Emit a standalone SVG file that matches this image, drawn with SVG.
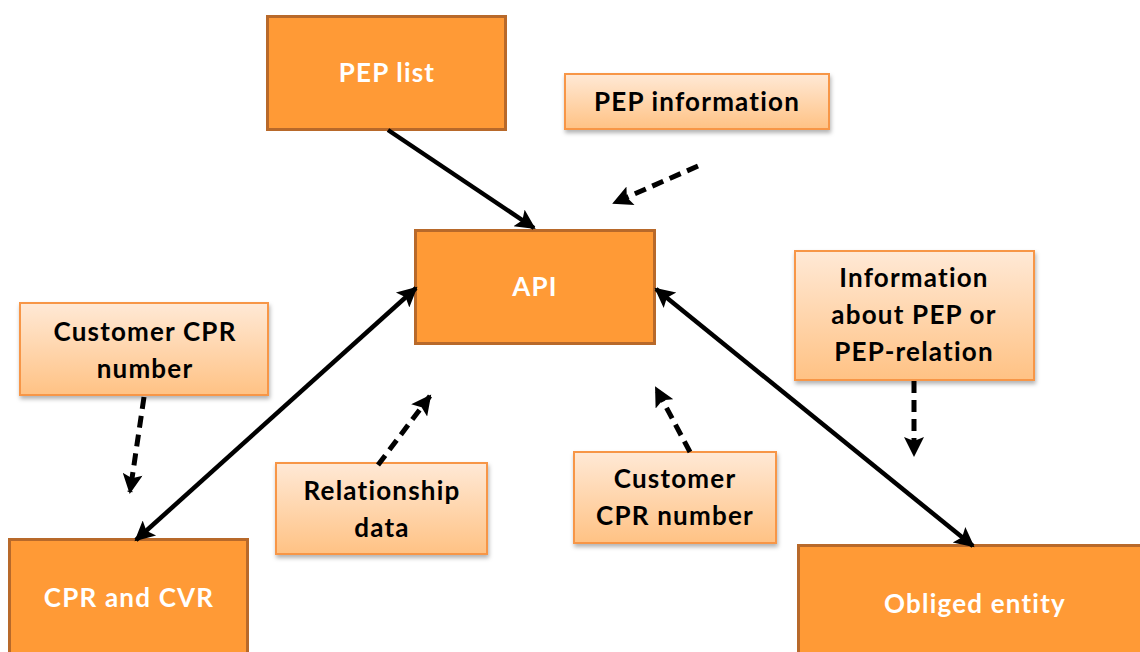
<svg xmlns="http://www.w3.org/2000/svg" width="1140" height="652" viewBox="0 0 1140 652">
<defs>
<linearGradient id="lg" x1="0" y1="0" x2="0" y2="1">
<stop offset="0" stop-color="#FFE9D6"/>
<stop offset="1" stop-color="#FFC284"/>
</linearGradient>
<filter id="sh" x="-10%" y="-10%" width="120%" height="130%">
<feDropShadow dx="1" dy="3" stdDeviation="2" flood-color="#000" flood-opacity="0.3"/>
</filter>
<marker id="ah" viewBox="0 0 10 10" refX="9" refY="5" markerWidth="22" markerHeight="20" markerUnits="userSpaceOnUse" orient="auto-start-reverse">
<path d="M0,0 L10,5 L0,10 L2,5 Z" fill="#000"/>
</marker>
</defs>
<style>
.dark{fill:#FF9A36;stroke:#B8692A;stroke-width:3}
.light{fill:url(#lg);stroke:#F79646;stroke-width:2;filter:url(#sh)}
.wt{font-family:Lato,"Open Sans",sans-serif;font-weight:bold;font-size:26px;letter-spacing:1.2px;fill:#fff;text-anchor:middle}
.bt{font-family:Lato,"Open Sans",sans-serif;font-weight:bold;font-size:26px;letter-spacing:1.2px;fill:#000;text-anchor:middle}
.sol{stroke:#000;stroke-width:4.5;fill:none}
.dsh{stroke:#000;stroke-width:5;fill:none;stroke-dasharray:12 7}
</style>
<g id="pep-list"><rect class="dark" x="267.5" y="16.5" width="238" height="113"/><text class="wt" x="387" y="82">PEP list</text></g>
<g id="pep-information"><rect class="light" x="565" y="74" width="264" height="55"/><text class="bt" x="697" y="111">PEP information</text></g>
<g id="api"><rect class="dark" x="415.5" y="230.5" width="239" height="113"/><text class="wt" x="535" y="296">API</text></g>
<g id="customer-cpr-left"><rect class="light" x="20" y="303" width="248" height="92"/><text class="bt" x="145" y="341">Customer CPR</text><text class="bt" x="145" y="378">number</text></g>
<g id="info-pep"><rect class="light" x="795" y="251" width="239" height="129"/><text class="bt" x="914" y="287">Information</text><text class="bt" x="914" y="324">about PEP or</text><text class="bt" x="914" y="361">PEP-relation</text></g>
<g id="relationship-data"><rect class="light" x="276" y="463" width="211" height="91"/><text class="bt" x="382" y="500">Relationship</text><text class="bt" x="382" y="537">data</text></g>
<g id="customer-cpr-mid"><rect class="light" x="574" y="452" width="202" height="91"/><text class="bt" x="675" y="488">Customer</text><text class="bt" x="675" y="525">CPR number</text></g>
<g id="cpr-cvr"><rect class="dark" x="9.5" y="539.5" width="238" height="125"/><text class="wt" x="129" y="607">CPR and CVR</text></g>
<g id="obliged-entity"><rect class="dark" x="798.5" y="545.5" width="350" height="120"/><text class="wt" x="975" y="613">Obliged entity</text></g>
<g id="connectors">
<line class="sol" x1="388" y1="130" x2="534" y2="228" marker-end="url(#ah)" stroke-width="6"/>
<line class="dsh" x1="698" y1="166" x2="614" y2="203" marker-end="url(#ah)"/>
<line class="sol" x1="136" y1="540" x2="416" y2="288" marker-start="url(#ah)" marker-end="url(#ah)"/>
<line class="sol" x1="656" y1="289" x2="973" y2="546" marker-start="url(#ah)" marker-end="url(#ah)"/>
<line class="dsh" x1="144" y1="397" x2="130" y2="492" marker-end="url(#ah)"/>
<line class="dsh" x1="378" y1="465" x2="430" y2="396" marker-end="url(#ah)"/>
<line class="dsh" x1="690" y1="452" x2="656" y2="388" marker-end="url(#ah)"/>
<line class="dsh" x1="914" y1="381" x2="914" y2="455" marker-end="url(#ah)"/>
</g>
</svg>
